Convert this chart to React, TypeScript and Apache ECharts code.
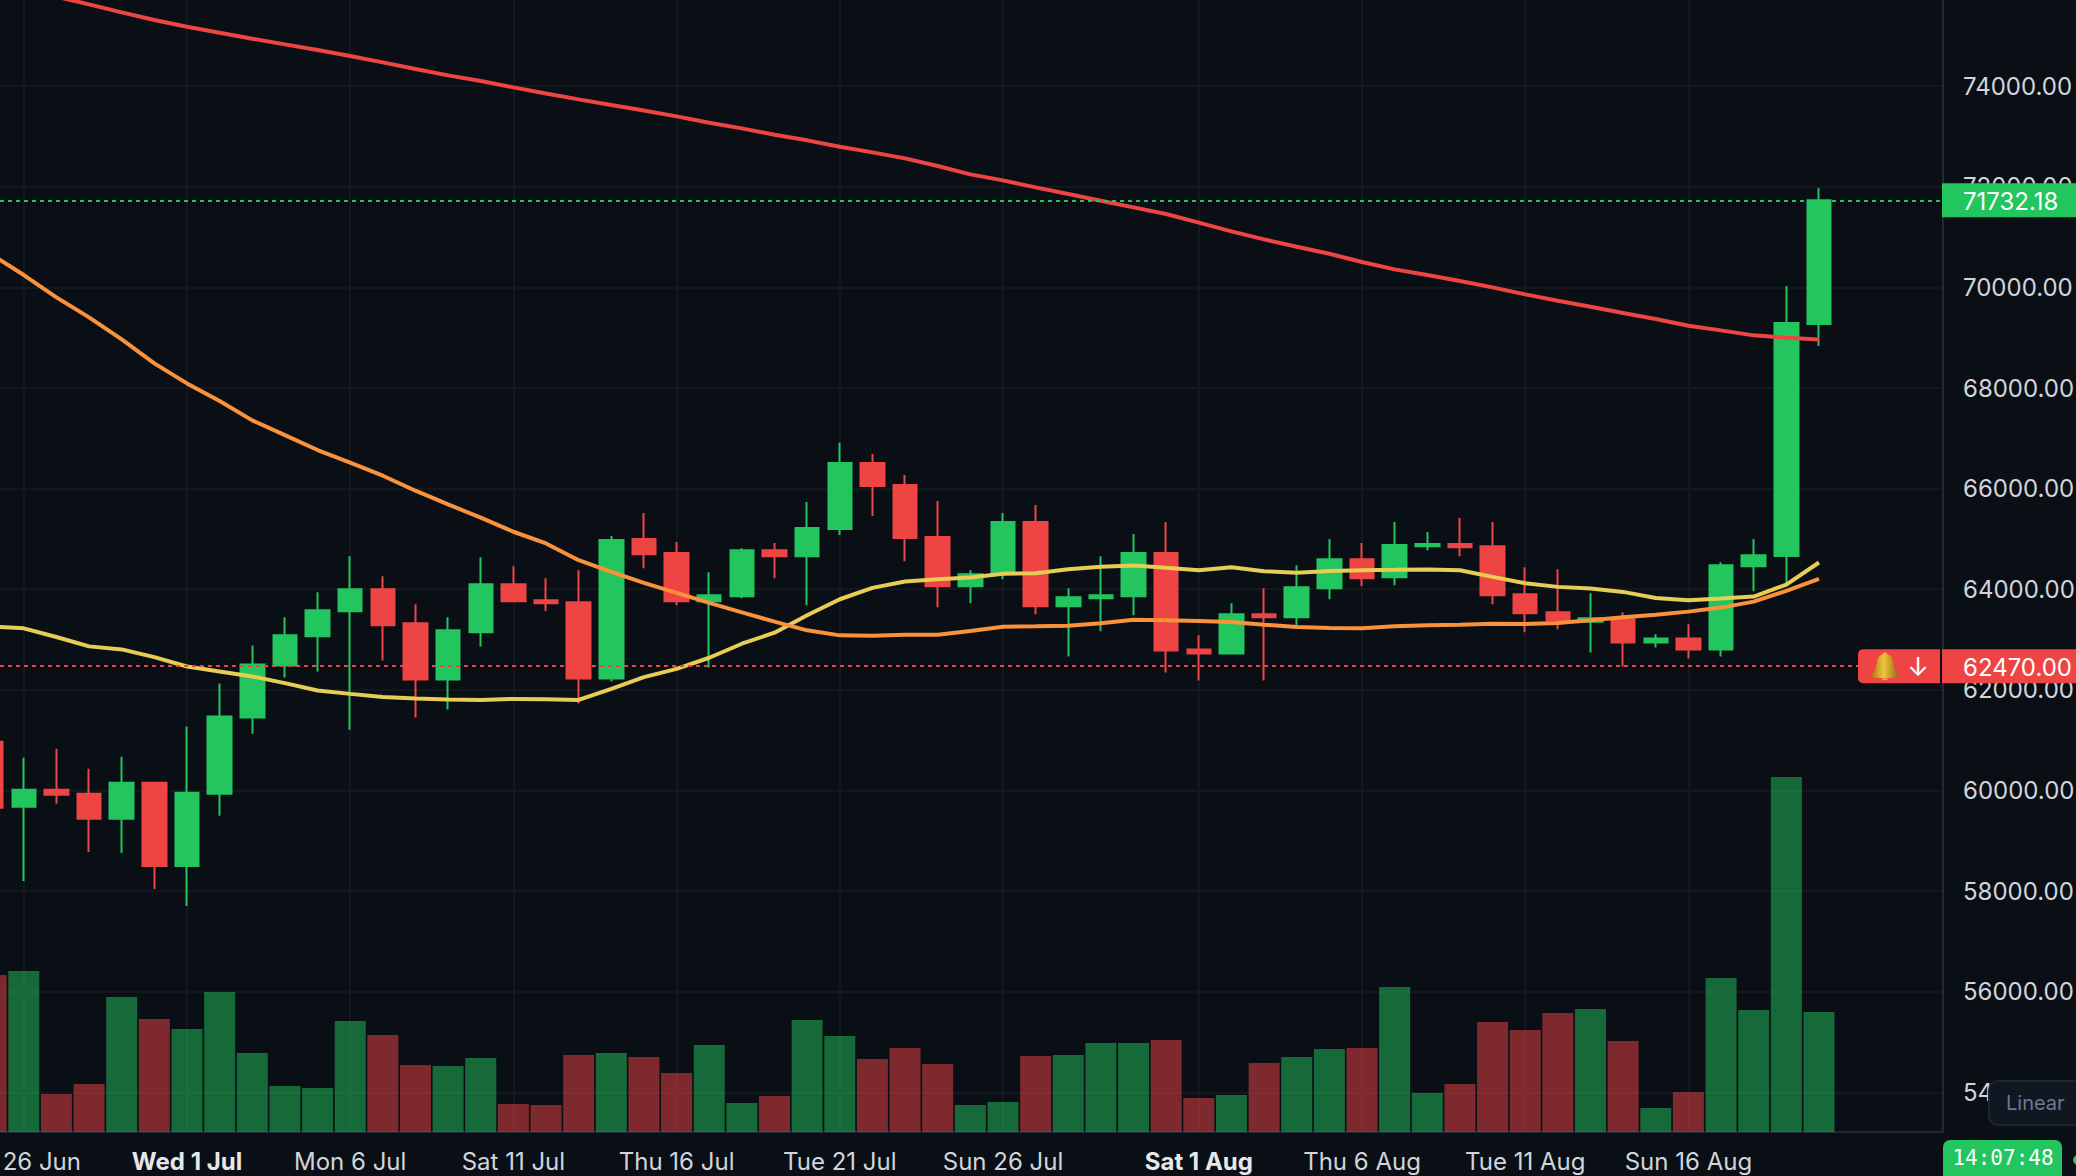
import React, { useEffect, useRef } from "react";
import * as echarts from "echarts";

// Day 0 = 25 Jun. Each array has one entry per daily candle.
const opens = [60970,59674,60013,59933,59435,60153,58498,59933,61448,62485,63063,63561,64000,63322,62206,63143,64100,63781,63741,62226,64997,64718,63761,63860,64777,64658,65196,66512,66073,65037,64060,64312,65336,63661,63821,63860,64718,62804,62724,63502,63442,64020,64598,64239,64857,64897,64857,63900,63541,63355,63402,62943,63023,62804,64459,64660,69272];
const closes = [59654,60013,59913,59435,60153,58498,59953,61468,62505,63083,63581,64000,63282,62206,63183,64100,63761,63721,62226,64977,64698,63761,63880,64777,64658,65216,66512,66053,65017,64060,64299,65336,63661,63841,63880,64718,62784,62724,63502,63442,64040,64598,64219,64877,64897,64837,63880,63522,63382,63422,62943,63023,62804,64478,64678,69292,71732.18];
const lows = [59395,58199,59734,58777,58757,58039,57701,59495,61129,62246,62365,61209,62585,61448,61608,62864,63741,63561,61727,62166,64419,63681,62445,63821,64219,63681,65076,65455,64558,63641,63721,64199,63502,62664,63163,63482,62345,62186,62724,62186,63282,63801,64060,64080,64777,64658,63701,63143,63203,62744,62465,62844,62624,62664,63960,64103,68835];
const highs = [61123,60651,60830,60432,60671,60172,61269,62126,62884,63442,63940,64658,64259,63701,63442,64638,64459,64219,64379,65057,65515,64937,64339,64817,64917,65734,66911,66691,66273,65754,64379,65515,65675,64020,64658,65096,65336,63083,63721,64020,64478,64997,64917,65336,65136,65415,65336,64439,64399,63920,63541,63103,63302,64538,64997,70028,71976];
const volumes = [157,161,38,48,135,113,103,140,79,46,44,111,97,67,66,74,28,27,77,79,75,59,87,29,36,112,96,73,84,68,27,30,76,77,89,89,92,34,37,69,75,83,84,145,39,48,110,102,119,123,91,24,40,154,122,355,120];
const maYellow = [63262,63223,63050,62864,62804,62651,62465,62365,62266,62133,61987,61920,61860,61827,61807,61800,61820,61814,61800,62020,62252,62418,62638,62917,63136,63482,63801,64027,64153,64199,64233,64306,64319,64399,64445,64472,64425,64379,64439,64359,64326,64365,64379,64385,64392,64379,64246,64120,64047,64013,63947,63827,63781,63814,63854,64093,64532];
const maOrange = [70657,70246,69802,69405,68967,68490,68092,67741,67357,67065,66767,66515,66257,65959,65687,65422,65143,64910,64578,64346,64126,63927,63728,63541,63355,63183,63083,63076,63096,63096,63169,63256,63262,63276,63322,63395,63382,63369,63349,63296,63249,63229,63223,63262,63282,63296,63316,63309,63329,63382,63442,63495,63555,63635,63754,63967,64206];
const maRed = [76111,75945,75779,75627,75468,75315,75183,75064,74944,74832,74719,74600,74474,74341,74215,74103,73977,73857,73738,73625,73519,73400,73275,73162,73036,72924,72798,72685,72566,72413,72248,72128,71989,71857,71724,71592,71459,71287,71114,70955,70809,70670,70505,70359,70246,70127,70001,69862,69736,69617,69491,69371,69239,69146,69047,69000,68967];

const dateTickDays = [1, 6, 11, 16, 21, 26, 31, 37, 42, 47, 52];
const dateTickLabels = ["26 Jun", "Wed 1 Jul", "Mon 6 Jul", "Sat 11 Jul", "Thu 16 Jul", "Tue 21 Jul", "Sun 26 Jul", "Sat 1 Aug", "Thu 6 Aug", "Tue 11 Aug", "Sun 16 Aug"];
const boldDateLabels = ["Wed 1 Jul", "Sat 1 Aug"];
const edgeDateLabel = "26 Jun";
const priceTicks = [54000, 56000, 58000, 60000, 62000, 64000, 66000, 68000, 70000, 72000, 74000];
const lastPrice = 71732.18;
const alertPrice = 62470;
const countdown = "14:07:48";
const scaleName = "Linear";

const BG = "#0a0f16";
const GREEN = "#22c55e";
const RED = "#ef4444";
const GRID = "#13181d";
const FONT = "Inter";

echarts.graphic.registerShape(
  "alertBell",
  echarts.graphic.extendPath(
    "M14 0C15.5 0 16 1 16 2C20.5 3 22 7 22.5 12C23 17 24.5 20 28 23C28 25 22 26 14 26C6 26 0 25 0 23C3.5 20 5 17 5.5 12C6 7 7.5 3 12 2C12 1 12.5 0 14 0ZM11 26.5C11.5 28.5 16.5 28.5 17 26.5Z",
    {}
  ) as any
);

export default function App() {
  const ref = useRef<HTMLDivElement>(null);

  useEffect(() => {
    const chart = echarts.init(ref.current!, undefined, { renderer: "svg" });
    const days = opens.map((_, i) => i);
    const line = (name: string, values: number[], color: string, z: number) => ({
      name,
      type: "line",
      xAxisIndex: 0,
      yAxisIndex: 0,
      data: days.map((d) => [d, values[d]]),
      showSymbol: false,
      symbol: "none",
      z,
      clip: true,
      lineStyle: { color, width: 4 },
    });
    const option: any = {
      animation: false,
      backgroundColor: BG,
      grid: { left: 0, right: 133, top: 0, bottom: 44, containLabel: false, outerBoundsMode: "none" },
      xAxis: {
        type: "value",
        min: 0.2708,
        max: 59.8,
        containShape: false,
        axisLine: { show: true, onZero: false, lineStyle: { color: "#1e2a38", width: 2 } },
        axisTick: { show: false, customValues: dateTickDays },
        splitLine: { show: true, lineStyle: { color: GRID, width: 2 } },
        axisLabel: {
          customValues: dateTickDays,
          margin: 17,
          color: "#d1d5db",
          fontFamily: FONT,
          fontSize: 24,
          hideOverlap: false,
          formatter: (v: number) => {
            const label = dateTickLabels[dateTickDays.indexOf(v)];
            if (label === edgeDateLabel) return `{e|${label}}`;
            return boldDateLabels.includes(label) ? `{b|${label}}` : label;
          },
          rich: {
            b: { fontFamily: FONT, fontSize: 24, fontWeight: 700, color: "#e5e7eb" },
            e: { fontFamily: FONT, fontSize: 24, color: "#d1d5db", padding: [0, 0, 0, 36] },
          },
        },
      },
      yAxis: [
        {
          type: "value",
          position: "right",
          min: 53210,
          max: 75714,
          axisLine: { show: true, onZero: false, lineStyle: { color: "#1e2a38", width: 2 } },
          axisTick: { show: false, customValues: priceTicks },
          splitLine: { show: true, lineStyle: { color: GRID, width: 2 } },
          axisLabel: {
            customValues: priceTicks,
            margin: 20,
            color: "#d1d5db",
            fontFamily: FONT,
            fontSize: 24,
            padding: [6, 0, 0, 0],
            formatter: (v: number) => v.toFixed(2),
          },
        },
        { type: "value", min: 0, max: 1132, show: false, splitLine: { show: false } },
      ],
      series: [
        {
          name: "Volume",
          type: "bar",
          xAxisIndex: 0,
          yAxisIndex: 1,
          barWidth: 31,
          z: 2,
          data: days.map((d) => ({
            value: [d, volumes[d]],
            itemStyle: { color: closes[d] >= opens[d] ? "rgba(34,197,94,0.5)" : "rgba(239,68,68,0.5)" },
          })),
        },
        {
          name: "Price",
          type: "candlestick",
          xAxisIndex: 0,
          yAxisIndex: 0,
          barWidth: 24,
          z: 3,
          itemStyle: { color: GREEN, color0: RED, borderColor: GREEN, borderColor0: RED, borderWidth: 2 },
          data: days.map((d) => [d, opens[d], closes[d], lows[d], highs[d]]),
          markLine: {
            silent: true,
            symbol: "none",
            z: 6,
            label: { show: false },
            data: [
              { yAxis: lastPrice, lineStyle: { color: GREEN, type: [4, 4], width: 2 } },
              { yAxis: alertPrice, lineStyle: { color: RED, type: [4, 4], width: 2 } },
            ],
          },
        },
        line("MA yellow", maYellow, "#e8cd55", 4),
        line("MA orange", maOrange, "#f9923a", 5),
        line("MA red", maRed, "#ef4444", 5),
      ],
    };
    chart.setOption(option);

    const lastY = chart.convertToPixel({ yAxisIndex: 0 }, lastPrice) as number;
    const alertY = chart.convertToPixel({ yAxisIndex: 0 }, alertPrice) as number;
    const tagText = (text: string, x: number, y: number, extra: any = {}) => ({
      type: "text",
      z: 21,
      style: {
        text,
        x,
        y,
        fill: "#ffffff",
        font: `24px ${FONT}`,
        textAlign: "left",
        textVerticalAlign: "middle",
        ...extra,
      },
    });
    chart.setOption({
      graphic: [
        { type: "rect", z: 20, shape: { x: 1942, y: lastY - 17, width: 134, height: 34 }, style: { fill: GREEN } },
        tagText(lastPrice.toFixed(2), 1963, lastY + 1),
        { type: "rect", z: 20, shape: { x: 1942, y: alertY - 17, width: 134, height: 34 }, style: { fill: RED } },
        tagText(alertPrice.toFixed(2), 1963, alertY + 1),
        { type: "rect", z: 20, shape: { x: 1858, y: alertY - 17, width: 82, height: 34, r: [5, 0, 0, 5] }, style: { fill: RED } },
        {
          type: "alertBell",
          z: 21,
          x: 1871,
          y: alertY - 14,
          style: {
            fill: new echarts.graphic.LinearGradient(0, 0, 1, 0, [
              { offset: 0, color: "#a87a0c" },
              { offset: 0.45, color: "#eec53f" },
              { offset: 1, color: "#96690c" },
            ]),
          },
        },
        tagText("↓", 1918, alertY, { textAlign: "center", font: `26px ${FONT}` }),
        {
          type: "rect",
          z: 20,
          shape: { x: 1989, y: 1081, width: 110, height: 44, r: 9 },
          style: { fill: "#101720", stroke: "#1b2633", lineWidth: 2 },
        },
        tagText(scaleName, 2006, 1103, { fill: "#6b7a90", font: `20px ${FONT}` }),
        { type: "rect", z: 20, shape: { x: 1943, y: 1140, width: 119, height: 46, r: 7 }, style: { fill: GREEN } },
        tagText(countdown, 2003, 1158, { textAlign: "center", font: "21px 'DejaVu Sans Mono'" }),
        { type: "circle", z: 20, shape: { cx: 2078, cy: 1160, r: 5 }, style: { fill: GREEN } },
      ],
    });
    return () => chart.dispose();
  }, []);

  return <div ref={ref} style={{ position: "fixed", left: 0, top: 0, width: 2076, height: 1176 }} />;
}
